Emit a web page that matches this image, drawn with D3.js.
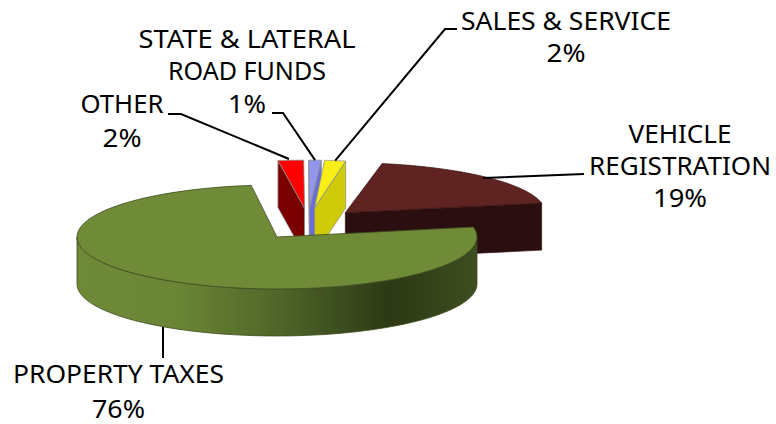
<!DOCTYPE html>
<html>
<head>
<meta charset="utf-8">
<script src="https://cdn.jsdelivr.net/npm/d3@7/dist/d3.min.js"></script>
<style>html,body{margin:0;padding:0;background:#fff}svg{display:block}</style>
</head>
<body>
<svg id="c" width="776" height="424"></svg>
<script>
// Data
const categories = ["PROPERTY TAXES","OTHER","STATE & LATERAL ROAD FUNDS","SALES & SERVICE","VEHICLE REGISTRATION"];
const shares = [76,2,1,2,19];
// Label lines (text rows) per category
const labelRows = [["PROPERTY TAXES"],["OTHER"],["STATE & LATERAL","ROAD FUNDS"],["SALES & SERVICE"],["VEHICLE","REGISTRATION"]];

// Style and layout
const topColors  = ["#6f8b38","#ff0000","#9296ec","#f6ee14","#5f2321"];
const sideColors = ["#6f8b38","#7a0000","#8a8ee6","#cfcb08","#2b0e0f"];
const endFaceColors = ["#6f8b38","#7a0000","#6a6ed6","#cfcb08","#2b0e0f"];
const edgeColors = ["#3c4a1e","#8a8a8a","#8a8a8a","#8a8a8a","#3a1514"];
const center = {x:308, y:224};
const radius = {x:200, y:52};
const backSquash = [1,.92,.92,.92,.96];
const widthSquash = [1,1.03,1,.85,1];
const explode = {x:53, y:16};
const depth = 47;
const firstAngle = 79;
const drawOrder = [4,1,2,3,0];
// text block centre x, row baselines, row widths, percent baseline, leader polyline from the label to the slice
const labelLayout = [
  {tx:118.5, ty:[383], w:[211], pct:418, leadFrom:[163,358], anchor:[163,327], knee:null},
  {tx:122, ty:[113], w:[83], pct:147, leadFrom:[168,114], knee:[181,114], anchor:[289,159]},
  {tx:247, ty:[48,80], w:[217,158], pct:113, leadFrom:[272,113], knee:[283,113]},
  {tx:566, ty:[30], w:[210], pct:62, leadFrom:[457,29], knee:[445,29]},
  {tx:680, ty:[143,175], w:[103,182], pct:207, leadFrom:[584,174], knee:null, anchor:[483,178]}
];
const pctWidth = [53,39,38,39,54];

const svg = d3.select("#c");
const rad = d => d*Math.PI/180;
const pie = d3.pie().sort(null).startAngle(rad(firstAngle)).endAngle(rad(firstAngle+360));
const slices = pie(shares);

function apexOf(s){
  const m=(s.startAngle+s.endAngle)/2;
  return {x:center.x+explode.x*Math.sin(m), y:center.y-explode.y*Math.cos(m)};
}
function rim(s,i,a,dz=0){
  const A=apexOf(s);
  return [A.x+radius.x*widthSquash[i]*Math.sin(a), A.y-radius.y*backSquash[i]*Math.cos(a)+dz];
}
const line=d3.line();

// wall gradient
const defs=svg.append("defs");
const gx=d3.scaleLinear().domain([0,1]).range([78,478]);
const grad=defs.append("linearGradient").attr("id","wall").attr("gradientUnits","userSpaceOnUse")
  .attr("x1",gx(0)).attr("x2",gx(1)).attr("y1",0).attr("y2",0);
[[0,"#6e8a37"],[.25,"#6a8535"],[.5,"#506629"],[.78,"#2c3914"],[1,"#3f4e20"]]
  .forEach(([o,c])=>grad.append("stop").attr("offset",o).attr("stop-color",c));

drawOrder.forEach(i=>{
  const s=slices[i], A=apexOf(s);
  const g=svg.append("g");
  const apex=[A.x,A.y];
  const face=(a)=>{
    const r=rim(s,i,a), r2=rim(s,i,a,depth);
    return [apex,r,r2,[A.x,A.y+depth]];
  };
  if(i===0){
    const n=d3.range(0,61).map(k=>rad(90)+k/60*rad(180));
    const top=n.map(a=>rim(s,i,a));
    const bot=n.map(a=>rim(s,i,a,depth)).reverse();
    g.append("path").attr("d",line(top.concat(bot))+"Z").attr("fill","url(#wall)")
      .attr("stroke",edgeColors[i]).attr("stroke-width",.8);
  } else {
    if(Math.sin(s.startAngle)<0) g.append("path").attr("d",line(face(s.startAngle))+"Z")
      .attr("fill",sideColors[i]).attr("stroke",edgeColors[i]).attr("stroke-width",.7);
    if(Math.sin(s.endAngle)>0) g.append("path").attr("d",line(face(s.endAngle))+"Z")
      .attr("fill",endFaceColors[i]).attr("stroke",edgeColors[i]).attr("stroke-width",.7);
  }
  const steps=d3.range(0,121).map(k=>s.startAngle+k/120*(s.endAngle-s.startAngle));
  const topPts=[apex].concat(steps.map(a=>rim(s,i,a)));
  g.append("path").attr("d",line(topPts)+"Z").attr("fill",topColors[i])
    .attr("stroke",edgeColors[i]).attr("stroke-width",.8).attr("stroke-linejoin","round");
});

// leaders
labelLayout.forEach((l,i)=>{
  const s=slices[i];
  const m=(s.startAngle+s.endAngle)/2;
  const end=l.anchor?l.anchor:rim(s,i,m);
  const pts=[l.leadFrom];
  if(l.knee) pts.push(l.knee);
  pts.push(end);
  svg.append("path").attr("d",line(pts)).attr("fill","none").attr("stroke","#000").attr("stroke-width",2);
});

// labels
const font="'Noto Sans', sans-serif";
function put(x,y,w,t){
  svg.append("text").attr("x",x).attr("y",y).attr("text-anchor","middle")
    .attr("font-family",font).attr("font-size",25).attr("fill","#000")
    .attr("textLength",w).attr("lengthAdjust","spacingAndGlyphs").text(t);
}
labelLayout.forEach((l,i)=>{
  labelRows[i].forEach((r,k)=>put(l.tx,l.ty[k],l.w[k],r));
  put(l.tx,l.pct,pctWidth[i],shares[i]+"%");
});
</script>
</body>
</html>
